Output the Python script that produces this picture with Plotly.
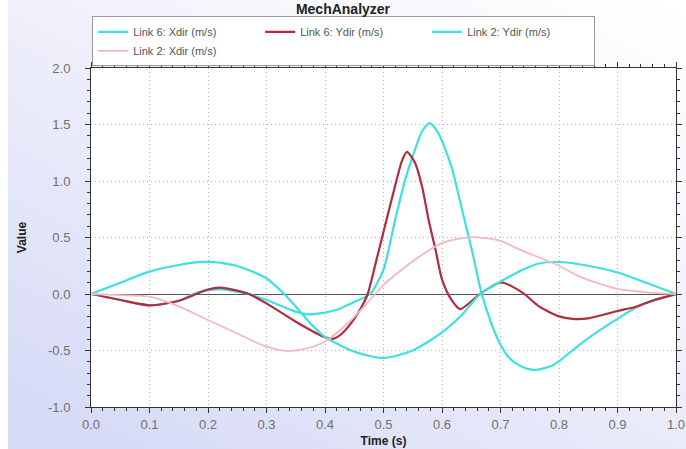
import base64
import plotly.graph_objects as go

# ---- data ----
t_l6x = [0, 0.05, 0.1, 0.15, 0.175, 0.2, 0.225, 0.25, 0.27, 0.3, 0.35, 0.37, 0.4, 0.42, 0.45, 0.477,
         0.5, 0.52, 0.537, 0.554, 0.566, 0.579, 0.594, 0.616, 0.635, 0.651, 0.668, 0.685, 0.7, 0.714, 0.735,
         0.758, 0.788, 0.8, 0.836, 0.87, 0.9, 0.933, 0.965, 1.0]
v_l6x = [0, -0.053, -0.10, -0.062, 0, 0.035, 0.04, 0.02, 0, -0.053, -0.156, -0.18, -0.165, -0.14, -0.07, 0,
         0.215, 0.66, 1.01, 1.28, 1.44, 1.513, 1.42, 1.13, 0.73, 0.39, 0, -0.27, -0.45, -0.56, -0.64,
         -0.672, -0.635, -0.595, -0.445, -0.32, -0.22, -0.115, -0.05, 0]

t_l6y = [0, 0.05, 0.1, 0.15, 0.2, 0.22, 0.25, 0.27, 0.3, 0.35, 0.4, 0.415, 0.43, 0.45, 0.462, 0.473,
         0.486, 0.5, 0.52, 0.531, 0.54, 0.554, 0.566, 0.577, 0.589, 0.6, 0.616, 0.631, 0.665, 0.701,
         0.738, 0.766, 0.8, 0.823, 0.85, 0.9, 0.933, 0.965, 1.0]
v_l6y = [0, -0.053, -0.10, -0.06, 0.04, 0.056, 0.03, 0, -0.083, -0.245, -0.383, -0.395, -0.345, -0.22, -0.12, 0,
         0.26, 0.55, 0.96, 1.17, 1.257, 1.16, 0.95, 0.66, 0.39, 0.13, -0.05, -0.133, 0, 0.103,
         0.01, -0.11, -0.198, -0.22, -0.215, -0.15, -0.11, -0.05, 0]

t_l2y = [0, 0.05, 0.1, 0.15, 0.2, 0.25, 0.3, 0.33, 0.35, 0.375, 0.4, 0.45, 0.5, 0.55, 0.6, 0.635, 0.665,
         0.7, 0.738, 0.766, 0.8, 0.85, 0.9, 0.95, 1.0]
v_l2y = [0, 0.10, 0.198, 0.257, 0.286, 0.248, 0.139, 0, -0.11, -0.26, -0.38, -0.51, -0.566, -0.50, -0.34, -0.18, 0,
         0.11, 0.215, 0.27, 0.283, 0.25, 0.19, 0.097, 0]

t_l2x = [0, 0.05, 0.1, 0.15, 0.2, 0.25, 0.3, 0.337, 0.37, 0.4, 0.445, 0.486, 0.5, 0.55, 0.6, 0.65,
         0.7, 0.734, 0.8, 0.834, 0.9, 0.95, 1.0]
v_l2x = [0, -0.01, -0.024, -0.11, -0.23, -0.35, -0.466, -0.505, -0.48, -0.42, -0.23, 0, 0.08, 0.29, 0.45, 0.504,
         0.47, 0.39, 0.25, 0.156, 0.045, 0.015, 0]

series_names = ["Link 6: Xdir (m/s)", "Link 6: Ydir (m/s)", "Link 2: Ydir (m/s)", "Link 2: Xdir (m/s)"]
x_ticks = [0.0, 0.1, 0.2, 0.3, 0.4, 0.5, 0.6, 0.7, 0.8, 0.9, 1.0]
y_ticks = [-1.0, -0.5, 0.0, 0.5, 1.0, 1.5, 2.0]

CYAN = "#3EE0E0"
RED = "#B02C3E"
PINK = "#F5B8C2"
SM = 0.7

fig = go.Figure()
fig.add_trace(go.Scatter(x=t_l6x, y=v_l6x, name=series_names[0], mode="lines",
                         line=dict(color=CYAN, width=2.2, shape="spline", smoothing=SM)))
fig.add_trace(go.Scatter(x=t_l6y, y=v_l6y, name=series_names[1], mode="lines",
                         line=dict(color=RED, width=2.2, shape="spline", smoothing=SM)))
fig.add_trace(go.Scatter(x=t_l2y, y=v_l2y, name=series_names[2], mode="lines",
                         line=dict(color=CYAN, width=2.2, shape="spline", smoothing=SM)))
fig.add_trace(go.Scatter(x=t_l2x, y=v_l2x, name=series_names[3], mode="lines",
                         line=dict(color=PINK, width=1.8, shape="spline", smoothing=SM)))

# background gradient (decoration)
W, H = 686, 449
L, R, T, B = 91, 10, 68, 42
svg = f'''<svg xmlns="http://www.w3.org/2000/svg" width="{W}" height="{H}" viewBox="0 0 {W} {H}" preserveAspectRatio="none">
<defs><linearGradient id="g" x1="1" y1="0" x2="0.2" y2="1">
<stop offset="0" stop-color="#FFFFFF"/><stop offset="0.35" stop-color="#F5F5FC"/><stop offset="1" stop-color="#D8DBF6"/>
</linearGradient></defs>
<rect x="0" y="0" width="{W}" height="{H}" fill="url(#g)"/>
<rect x="0" y="0" width="8" height="{H}" fill="#FFFFFF"/>
<rect x="{L}" y="{T}" width="{W-L-R}" height="{H-T-B}" fill="#FFFFFF"/>
</svg>'''
uri = "data:image/svg+xml;base64," + base64.b64encode(svg.encode()).decode()
pw, ph = W - L - R, H - T - B
fig.add_layout_image(dict(source=uri, xref="paper", yref="paper",
                          x=-L / pw, y=1 + T / ph, sizex=W / pw, sizey=H / ph,
                          xanchor="left", yanchor="top", sizing="stretch", layer="below"))

axis_common = dict(
    showline=True, linecolor="#333333", linewidth=1, mirror="ticks",
    ticks="outside", ticklen=5, tickcolor="#333333", tickwidth=1,
    showgrid=True, gridcolor="#B8B8B8", griddash="1px,3px", gridwidth=1,
    tickfont=dict(family="Liberation Sans, Arial", size=13, color="#707070"),
)

fig.update_layout(
    width=W, height=H,
    margin=dict(l=L, r=R, t=T, b=B, autoexpand=False),
    paper_bgcolor="white", plot_bgcolor="rgba(0,0,0,0)",
    title=dict(text="<b>MechAnalyzer</b>", x=0.5, xref="container", xanchor="center",
               y=1 - 9 / H, yref="container", yanchor="middle",
               font=dict(family="Liberation Sans, Arial", size=14, color="#222222")),
    legend=dict(orientation="h", x=0.002, y=(ph + 1) / ph + 0.002, xanchor="left", yanchor="bottom",
                bgcolor="white", bordercolor="#999999", borderwidth=1,
                entrywidth=122, tracegroupgap=0,
                font=dict(family="Liberation Sans, Arial", size=11, color="#555555")),
    showlegend=True,
)
fig.update_xaxes(range=[0, 1], tickvals=x_ticks, ticktext=[f"{v:.1f}" for v in x_ticks],
                 zeroline=False, ticklabelstandoff=0,
                 minor=dict(dtick=0.02, ticks="outside", ticklen=3, tickcolor="#333333", showgrid=False),
                 title=dict(text="<b>Time (s)</b>", standoff=6,
                            font=dict(family="Liberation Sans, Arial", size=12, color="#222222")),
                 **axis_common)
fig.update_yaxes(range=[-1, 2], tickvals=y_ticks, ticktext=[f"{v:.1f}" for v in y_ticks],
                 zeroline=True, zerolinecolor="#555555", zerolinewidth=1, ticklabelstandoff=12,
                 minor=dict(dtick=0.1, ticks="outside", ticklen=3, tickcolor="#333333", showgrid=False),
                 title=dict(text="<b>Value</b>", standoff=18,
                            font=dict(family="Liberation Sans, Arial", size=12, color="#222222")),
                 **axis_common)

fig.write_html("out.html", config={"displayModeBar": False},
               post_script="document.body.style.margin='0px';")
